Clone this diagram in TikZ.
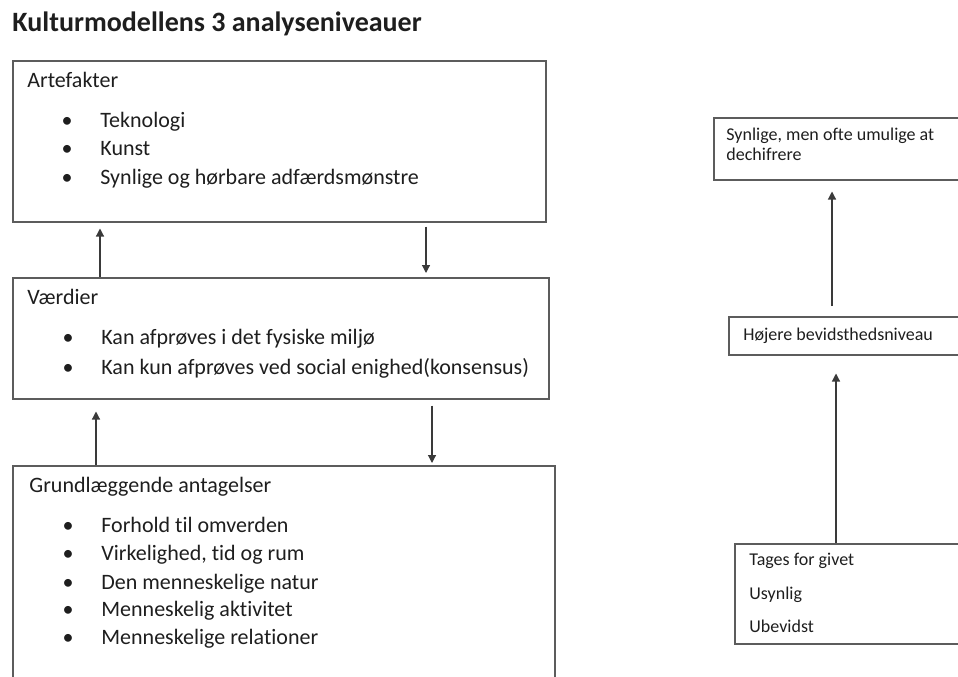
\documentclass[tikz,border=0pt]{standalone}
\usepackage{fontspec}
\setmainfont{Carlito}[Ligatures=NoCommon]
\usetikzlibrary{arrows.meta}

\definecolor{boxline}{HTML}{5C5C5C}
\definecolor{arrowline}{HTML}{3A3A3A}
\definecolor{textcol}{HTML}{1E1E1E}

\begin{document}
\begin{tikzpicture}[x=0.5pt, y=-0.5pt, >={Triangle[length=4pt,width=4pt]},
    box/.style={draw=boxline, line width=0.75pt, anchor=north west, inner sep=0pt},
    txt/.style={anchor=base west, inner sep=0pt, text=textcol, font=\fontsize{11}{13}\selectfont},
    bul/.style={anchor=base, inner sep=0pt, text=textcol, font=\fontsize{11}{13}\selectfont},
    small/.style={anchor=base west, inner sep=0pt, text=textcol, font=\fontsize{9}{10}\selectfont},
    link/.style={->, draw=arrowline, line width=0.6pt}]

\clip (0,0) rectangle (958,676);

% Title
\node (title) [anchor=base west, inner sep=0pt, text=textcol, font=\fontsize{14}{16}\bfseries] at (12,31) {Kulturmodellens 3 analyseniveauer};

% Left column boxes
\node (arte) [box, minimum width=266.5pt, minimum height=80.5pt] at (12,60) {};
\node (vaerdi) [box, minimum width=268pt, minimum height=60.5pt] at (12,277) {};
\node (grund) [box, minimum width=271pt, minimum height=120pt] at (12,465) {};

% Artefakter
\node (artehead) [txt] at (27,87) {Artefakter};
\node (artebul1) [bul] at (67,127) {\textbullet};
\node (arte1) [txt] at (100,127) {Teknologi};
\node (artebul2) [bul] at (67,155) {\textbullet};
\node (arte2) [txt] at (100,155) {Kunst};
\node (artebul3) [bul] at (67,184) {\textbullet};
\node (arte3) [txt] at (100,184) {Synlige og hørbare adfærdsmønstre};

% Vaerdier
\node (vaerdihead) [txt] at (27,304) {Værdier};
\node (vaerdibul1) [bul] at (68,344) {\textbullet};
\node (vaerdi1) [txt] at (101,344) {Kan afprøves i det fysiske miljø};
\node (vaerdibul2) [bul] at (68,374) {\textbullet};
\node (vaerdi2) [txt] at (101,374) {Kan kun afprøves ved social enighed(konsensus)};

% Grundlaeggende antagelser
\node (grundhead) [txt] at (29,492) {Grundlæggende antagelser};
\node (grundbul1) [bul] at (68,532) {\textbullet};
\node (grund1) [txt] at (101,532) {Forhold til omverden};
\node (grundbul2) [bul] at (68,560) {\textbullet};
\node (grund2) [txt] at (101,560) {Virkelighed, tid og rum};
\node (grundbul3) [bul] at (68,589) {\textbullet};
\node (grund3) [txt] at (101,589) {Den menneskelige natur};
\node (grundbul4) [bul] at (68,616) {\textbullet};
\node (grund4) [txt] at (101,616) {Menneskelig aktivitet};
\node (grundbul5) [bul] at (68,644) {\textbullet};
\node (grund5) [txt] at (101,644) {Menneskelige relationer};

% Right column boxes
\node (synlig) [box, minimum width=150pt, minimum height=31pt] at (713,117) {};
\node (hojere) [box, minimum width=150pt, minimum height=19pt] at (728,316) {};
\node (tages) [box, minimum width=150pt, minimum height=50pt] at (734,543) {};

\node (synlig1) [small] at (726,140) {Synlige, men ofte umulige at};
\node (synlig2) [small] at (726,160) {dechifrere};
\node (hojere1) [small] at (743,340) {Højere bevidsthedsniveau};
\node (tages1) [small] at (749,565) {Tages for givet};
\node (tages2) [small] at (749,599) {Usynlig};
\node (tages3) [small] at (749,632) {Ubevidst};

% Arrows between levels
\draw[link, shorten >=3pt] ([xshift=44pt]vaerdi.north west) -- ([xshift=44pt]arte.south west);
\draw[link, shorten <=2pt, shorten >=2pt] ([xshift=207pt]arte.south west) -- ([xshift=207pt]vaerdi.north west);
\draw[link, shorten >=6pt] ([xshift=42pt]grund.north west) -- ([xshift=42pt]vaerdi.south west);
\draw[link, shorten <=3pt, shorten >=1pt] ([xshift=210pt]vaerdi.south west) -- ([xshift=210pt]grund.north west);

\draw[link, shorten >=9pt] ([xshift=51pt]tages.north west) -- ([xshift=54pt]hojere.south west);
\draw[link, shorten <=5pt, shorten >=5.5pt] ([xshift=52pt]hojere.north west) -- ([xshift=59.5pt]synlig.south west);

\end{tikzpicture}
\end{document}
